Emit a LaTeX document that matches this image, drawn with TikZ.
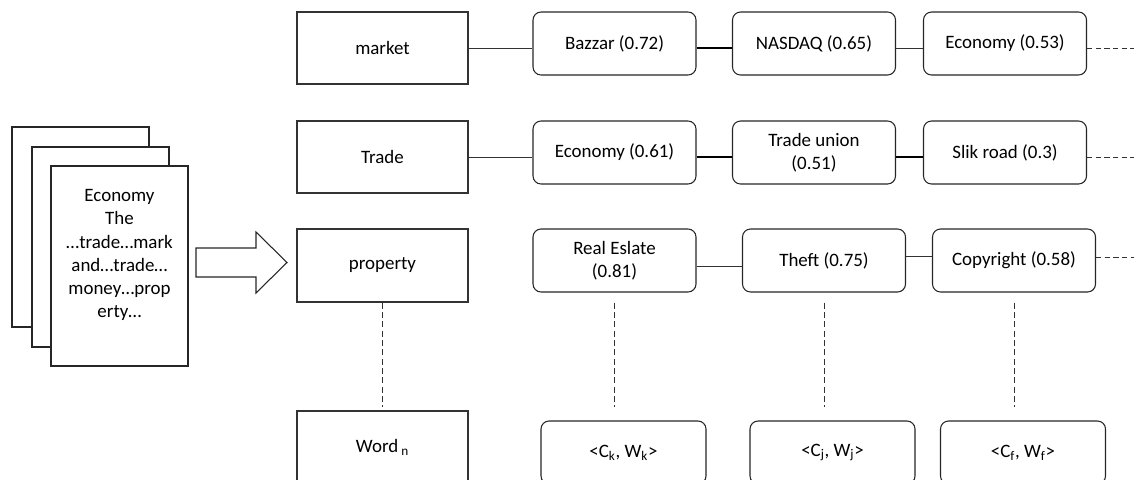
\documentclass[tikz,border=0pt]{standalone}
\usepackage{fontspec}
\setmainfont{Carlito}
\usetikzlibrary{calc}
\begin{document}
\begin{tikzpicture}[x=0.75pt,y=-0.75pt,
  every node/.style={font=\fontsize{14.2}{17.3}\selectfont, inner sep=0pt, align=center},
  wordbox/.style={draw=black!80, line width=0.8pt, fill=white, minimum width=128.25pt, minimum height=54pt},
  simbox/.style={draw=black!85, line width=0.8pt, rounded corners=6pt, fill=white, minimum width=122.25pt, minimum height=47.25pt},
  pairbox/.style={simbox, minimum width=123.75pt},
  page/.style={draw=black!85, line width=0.8pt, fill=white},
  thin link/.style={draw=black!80, line width=0.7pt},
  thick link/.style={draw=black, line width=1.2pt},
  more/.style={draw=black!80, line width=0.7pt, dash pattern=on 4pt off 2.5pt},
  vdash/.style={draw=black!80, line width=0.7pt, dash pattern=on 4.5pt off 2.5pt}]
\useasboundingbox (0,0) rectangle (1139,479);

% stack of documents
\draw[page] (12,127) rectangle (149,327);
\draw[page] (32,147) rectangle (169,347);
\node[page, minimum width=102.75pt, minimum height=150pt] (front) at (119.5,266) {};
\node (pagetext) at (119.5,255) {Economy\\The\\…trade…mark\\and…trade…\\money…prop\\erty…};

% block arrow
\draw[page, fill=white] (196,248) -- (256,248) -- (256,232) -- (287,262.5) -- (256,293) -- (256,277) -- (196,277) -- cycle;

% query words
\node[wordbox] (market) at (382.5,48) {market};
\node[wordbox] (trade) at (382.5,157) {Trade};
\node[wordbox, minimum height=54.75pt] (property) at (382.5,265.5) {property};
\node[wordbox, minimum height=54.75pt] (wordn) at (382.5,447.5) {Word\,\textsubscript{n}};

% related concepts
\node[simbox] (bazzar) at (614.5,43.5) {Bazzar (0.72)};
\node[simbox] (nasdaq) at (814,43.5) {NASDAQ (0.65)};
\node[simbox] (economyA) at (1005,43.5) {Economy (0.53)};

\node[simbox] (economyB) at (614.5,152.5) {Economy (0.61)};
\node[simbox] (union) at (814,152.5) {Trade union\\(0.51)};
\node[simbox] (silk) at (1005,152.5) {Slik road (0.3)};

\node[simbox] (estate) at (614.5,260.5) {Real Eslate\\(0.81)};
\node[simbox] (theft) at (824,260.5) {Theft (0.75)};
\node[simbox] (copyright) at (1014,260.5) {Copyright (0.58)};

\node[pairbox] (ck) at (623.5,452.5) {<C\textsubscript{k}, W\textsubscript{k}>};
\node[pairbox] (cj) at (832.5,452.5) {<C\textsubscript{j}, W\textsubscript{j}>};
\node[pairbox] (cf) at (1023,452.5) {<C\textsubscript{f}, W\textsubscript{f}>};

\coordinate (endA) at (1134,48);
\coordinate (endB) at (1134,157);
\coordinate (endC) at (1134,257);

% row 1
\draw[thin link] (market.east) -- (market.east -| bazzar.west);
\draw[thick link] ($(bazzar.east)+(0,4.5)$) -- ($(nasdaq.west)+(0,4.5)$);
\draw[thin link] ($(nasdaq.east)+(0,4.5)$) -- ($(economyA.west)+(0,4.5)$);
\draw[more] ($(economyA.east)+(0,4.5)$) -- (endA);

% row 2
\draw[thin link] (trade.east) -- (trade.east -| economyB.west);
\draw[thick link] ($(economyB.east)+(0,4.5)$) -- ($(union.west)+(0,4.5)$);
\draw[thick link] ($(union.east)+(0,4.5)$) -- ($(silk.west)+(0,4.5)$);
\draw[more] ($(silk.east)+(0,4.5)$) -- (endB);

% row 3
\draw[thin link] ($(estate.east)+(0,5.5)$) -- ($(theft.west)+(0,5.5)$);
\draw[thin link] ($(theft.east)+(0,-4.5)$) -- ($(copyright.west)+(0,-4.5)$);
\draw[more] ($(copyright.east)+(0,-3.5)$) -- (endC);

% elided rows
\draw[vdash] (property.south) -- ([yshift=2.25pt]property.south |- wordn.north);
\draw[vdash] ([yshift=-7.5pt]estate.south) -- ([yshift=9.75pt]estate.south |- ck.north);
\draw[vdash] ([yshift=-7.5pt]theft.south) -- ([yshift=9.75pt]theft.south |- cj.north);
\draw[vdash] ([yshift=-7.5pt]copyright.south) -- ([yshift=9.75pt]copyright.south |- cf.north);
\end{tikzpicture}
\end{document}
